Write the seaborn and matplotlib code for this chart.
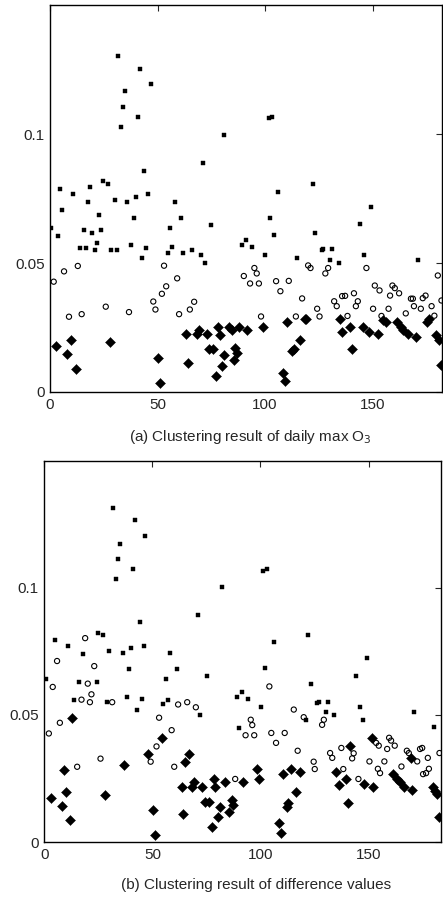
"""Two-panel cluster scatter: daily max O3 vs difference values."""
import matplotlib
matplotlib.use("Agg")
import matplotlib.pyplot as plt
import pandas as pd
import seaborn as sns

# ---- panel (a): clustering of daily max O3 ----
a_sq_x = [0.6, 3.7, 4.8, 5.7, 10.7, 13.8, 15.8, 16.9, 17.8, 18.8, 19.7, 20.8, 21.7, 22.8, 23.7,
          24.7, 27.0, 28.5, 30.1, 30.9, 31.8, 32.9, 34.0, 34.9, 35.8, 37.8, 38.9, 39.9, 40.8,
          41.9, 42.9, 43.9, 44.8, 45.6, 46.8, 54.9, 56.0, 56.9, 58.0, 60.9, 62.0, 65.9, 70.1,
          71.0, 72.1, 75.0, 81.0, 89.1, 91.0, 94.1, 100.0, 102.0, 102.2, 103.1, 104.0, 106.0,
          115.0, 122.2, 123.3, 126.4, 127.1, 130.2, 131.0, 134.3, 144.2, 146.2, 149.2, 171.3]
a_sq_y = [0.0637, 0.0606, 0.0786, 0.0706, 0.0767, 0.056, 0.0628, 0.056, 0.0737, 0.0796, 0.0616,
          0.0551, 0.058, 0.0687, 0.0628, 0.0818, 0.0808, 0.0551, 0.0746, 0.0551, 0.1305, 0.1028,
          0.1105, 0.1166, 0.0737, 0.057, 0.0677, 0.0758, 0.1065, 0.1253, 0.0518, 0.0857, 0.056,
          0.0767, 0.1195, 0.0539, 0.0637, 0.0561, 0.0736, 0.0677, 0.0539, 0.0552, 0.0531, 0.0888,
          0.0499, 0.0648, 0.0999, 0.0571, 0.0589, 0.0561, 0.0531, 0.1063, 0.0677, 0.1067, 0.0609,
          0.0777, 0.052, 0.0808, 0.0618, 0.0551, 0.0555, 0.0511, 0.0553, 0.05, 0.065, 0.0533,
          0.0718, 0.0512]

a_ci_x = [1.7, 6.5, 8.8, 12.9, 14.7, 25.9, 36.7, 48.0, 49.0, 52.0, 53.0, 54.0, 59.1, 60.0, 65.0,
          67.0, 90.1, 93.0, 95.0, 96.1, 97.1, 98.1, 105.1, 107.1, 111.0, 114.3, 117.2, 120.0,
          121.1, 124.2, 125.3, 128.0, 129.3, 132.1, 133.3, 135.8, 137.2, 138.3, 141.3, 142.2,
          143.1, 147.1, 150.2, 151.0, 153.2, 154.1, 157.4, 158.1, 159.2, 160.3, 162.3, 165.4,
          167.8, 168.7, 169.2, 172.4, 173.3, 174.6, 177.4, 178.7, 180.3, 182.0]
a_ci_y = [0.0428, 0.0468, 0.0292, 0.0489, 0.0302, 0.0331, 0.031, 0.0351, 0.032, 0.0381, 0.049,
          0.041, 0.0441, 0.0302, 0.032, 0.035, 0.045, 0.0421, 0.0481, 0.046, 0.0421, 0.0293,
          0.043, 0.0391, 0.0431, 0.0293, 0.0363, 0.0491, 0.0481, 0.0323, 0.0293, 0.046, 0.0481,
          0.0352, 0.0333, 0.0372, 0.0373, 0.0295, 0.0383, 0.0333, 0.0352, 0.0481, 0.0323, 0.0413,
          0.0394, 0.0295, 0.0323, 0.0374, 0.0413, 0.0403, 0.0383, 0.0305, 0.0362, 0.0362, 0.0333,
          0.0323, 0.0364, 0.0374, 0.0333, 0.0296, 0.0452, 0.0355]

a_di_x = [2.9, 7.9, 9.8, 12.1, 27.8, 50.1, 51.0, 63.1, 64.0, 68.2, 69.2, 73.0, 74.1, 75.8, 77.1,
          78.1, 78.9, 80.0, 81.1, 83.3, 84.5, 85.3, 86.0, 87.1, 88.0, 91.5, 99.1, 108.2, 109.2,
          110.2, 112.6, 113.3, 116.1, 118.4, 119.2, 135.0, 135.8, 139.4, 140.3, 145.3, 148.4,
          152.4, 155.0, 156.3, 161.3, 163.3, 164.3, 166.4, 170.2, 175.5, 176.3, 179.5, 180.9, 182.0]
a_di_y = [0.0179, 0.0149, 0.0201, 0.0091, 0.0193, 0.013, 0.0034, 0.0224, 0.0112, 0.0224, 0.0242,
          0.0224, 0.0165, 0.0165, 0.0062, 0.0252, 0.0221, 0.010, 0.0142, 0.0252, 0.0242, 0.0126,
          0.0172, 0.0152, 0.0252, 0.0242, 0.0252, 0.0075, 0.0044, 0.0271, 0.016, 0.0167, 0.0201,
          0.0282, 0.0282, 0.0282, 0.0233, 0.0252, 0.0165, 0.0252, 0.0233, 0.0224, 0.0281, 0.0271,
          0.0271, 0.0252, 0.0242, 0.0224, 0.0214, 0.0271, 0.0283, 0.0223, 0.0203, 0.0104]

# ---- panel (b): clustering of difference values ----
b_sq_x = [1.0, 5.0, 10.9, 13.8, 16.0, 18.1, 24.2, 24.9, 27.2, 28.8, 29.9, 31.9, 33.0, 33.9, 35.0,
          36.2, 38.1, 39.1, 40.0, 40.8, 41.9, 43.1, 44.1, 45.0, 46.1, 46.8, 55.0, 56.1, 57.0,
          58.1, 61.2, 70.9, 72.0, 75.1, 82.0, 89.0, 90.2, 91.3, 94.4, 100.1, 101.0, 102.1, 103.1,
          106.3, 121.2, 122.1, 123.2, 126.3, 127.2, 130.2, 131.3, 134.2, 144.2, 146.2, 147.3,
          149.2, 171.2, 180.3]
b_sq_y = [0.064, 0.0793, 0.0771, 0.056, 0.0631, 0.0741, 0.0631, 0.0824, 0.0814, 0.055, 0.0753,
          0.1315, 0.1035, 0.1114, 0.1173, 0.0743, 0.057, 0.0682, 0.0762, 0.1073, 0.1265, 0.052,
          0.0864, 0.0561, 0.0773, 0.1204, 0.0541, 0.0641, 0.056, 0.0743, 0.0682, 0.0894, 0.0499,
          0.0653, 0.1003, 0.0572, 0.045, 0.059, 0.0561, 0.053, 0.1065, 0.0685, 0.1074, 0.0785,
          0.0481, 0.0815, 0.0623, 0.0545, 0.055, 0.0511, 0.055, 0.05, 0.0653, 0.0532, 0.0481,
          0.0723, 0.0512, 0.0452]

b_ci_x = [2.1, 3.9, 5.9, 7.2, 15.2, 17.2, 18.9, 20.1, 21.1, 21.8, 23.1, 26.0, 31.4, 49.2, 51.9,
          53.1, 58.9, 60.1, 61.9, 66.1, 70.1, 88.3, 93.1, 95.5, 96.2, 97.1, 104.1, 105.0, 107.2,
          111.2, 115.4, 117.2, 120.0, 124.6, 125.1, 128.5, 129.3, 132.2, 133.2, 137.4, 138.3,
          142.4, 143.1, 145.3, 150.4, 153.5, 154.3, 154.7, 155.3, 157.3, 158.6, 159.5, 160.4,
          162.1, 165.2, 167.7, 168.6, 172.5, 173.8, 174.8, 175.2, 176.6, 177.4, 177.9, 182.8]
b_ci_y = [0.0427, 0.061, 0.0712, 0.0469, 0.0296, 0.056, 0.0802, 0.0623, 0.055, 0.0581, 0.0692,
          0.0328, 0.055, 0.0316, 0.0376, 0.0489, 0.044, 0.0296, 0.0541, 0.055, 0.053, 0.0248,
          0.042, 0.0481, 0.046, 0.042, 0.0612, 0.0429, 0.039, 0.0429, 0.0521, 0.0359, 0.0491,
          0.0316, 0.0287, 0.0461, 0.0481, 0.035, 0.0331, 0.037, 0.0287, 0.0329, 0.0349, 0.0248,
          0.0317, 0.039, 0.0288, 0.0379, 0.0271, 0.0317, 0.0366, 0.041, 0.0399, 0.0379, 0.0297,
          0.0359, 0.035, 0.0317, 0.0366, 0.037, 0.0267, 0.0271, 0.0331, 0.0288, 0.035]

b_di_x = [3.0, 8.1, 9.0, 10.0, 12.1, 13.0, 28.0, 36.9, 48.1, 50.1, 51.2, 54.3, 63.5, 64.0, 65.0,
          67.0, 68.4, 69.2, 73.1, 74.3, 76.3, 77.4, 78.3, 78.9, 80.2, 81.3, 83.7, 85.6, 86.7,
          87.4, 92.0, 98.2, 99.3, 108.4, 109.5, 110.3, 112.1, 112.9, 114.3, 116.4, 118.4, 135.1,
          136.2, 139.4, 140.5, 141.4, 148.1, 151.5, 152.2, 161.2, 163.3, 164.4, 166.4, 169.5,
          170.1, 179.9, 180.8, 181.6, 182.5]
b_di_y = [0.0174, 0.0143, 0.0284, 0.0195, 0.0088, 0.0489, 0.0186, 0.0304, 0.0348, 0.0125, 0.0028,
          0.0408, 0.0218, 0.0109, 0.0316, 0.0348, 0.0218, 0.0238, 0.0218, 0.0157, 0.0157, 0.006,
          0.0248, 0.0218, 0.010, 0.0139, 0.0238, 0.0117, 0.0166, 0.0146, 0.0238, 0.0287, 0.0248,
          0.0074, 0.0037, 0.0267, 0.0139, 0.0153, 0.0287, 0.0195, 0.0277, 0.0277, 0.0226, 0.0248,
          0.0155, 0.0379, 0.0228, 0.0408, 0.0218, 0.0267, 0.0248, 0.0238, 0.0218, 0.0329, 0.0204,
          0.0218, 0.0199, 0.0188, 0.010]

Y_TICKS = [0, 0.05, 0.1]
Y_TICK_LABELS = ["0", "0.05", "0.1"]
X_TICKS = [0, 50, 100, 150]


def to_df(xs, ys, cluster):
    return pd.DataFrame({"day": xs, "value": ys, "cluster": cluster})


def draw_panel(ax, sq, ci, di, xmax):
    sns.scatterplot(data=sq, x="day", y="value", marker="s", s=11, color="black",
                    edgecolor="black", linewidth=0.3, legend=False, ax=ax)
    sns.scatterplot(data=ci, x="day", y="value", marker="o", s=14, facecolor="none",
                    edgecolor="black", linewidth=0.8, legend=False, ax=ax)
    sns.scatterplot(data=di, x="day", y="value", marker="D", s=26, color="black",
                    edgecolor="black", linewidth=0.3, legend=False, ax=ax)
    ax.set_xlim(0, xmax)
    ax.set_ylim(0, 0.15)
    ax.set_xticks(X_TICKS)
    ax.set_yticks(Y_TICKS)
    ax.set_yticklabels(Y_TICK_LABELS)
    ax.set_xlabel("")
    ax.set_ylabel("")
    ax.tick_params(direction="in", length=4, width=0.8, top=True, right=True,
                   labelsize=11, pad=4)
    for sp in ax.spines.values():
        sp.set_visible(True)
        sp.set_linewidth(1.0)
        sp.set_color("black")


def main():
    sns.set_style("white")
    plt.rcParams["font.family"] = ["Liberation Sans", "DejaVu Sans"]

    fig = plt.figure(figsize=(4.43, 8.97), dpi=100)
    ax_a = fig.add_axes([0.113, 0.563, 0.885, 0.431])
    ax_b = fig.add_axes([0.100, 0.0613, 0.895, 0.4251])

    draw_panel(ax_a, to_df(a_sq_x, a_sq_y, 1), to_df(a_ci_x, a_ci_y, 2),
               to_df(a_di_x, a_di_y, 3), 182.3)
    draw_panel(ax_b, to_df(b_sq_x, b_sq_y, 1), to_df(b_ci_x, b_ci_y, 2),
               to_df(b_di_x, b_di_y, 3), 183.4)

    fig.text(0.565, 1 - 437 / 897, "(a) Clustering result of daily max O$_3$",
             ha="center", va="center", fontsize=11)
    fig.text(0.578, 1 - 885 / 897, "(b) Clustering result of difference values",
             ha="center", va="center", fontsize=11)

    fig.savefig("out.png", dpi=100)
    plt.close(fig)


if __name__ == "__main__":
    main()
